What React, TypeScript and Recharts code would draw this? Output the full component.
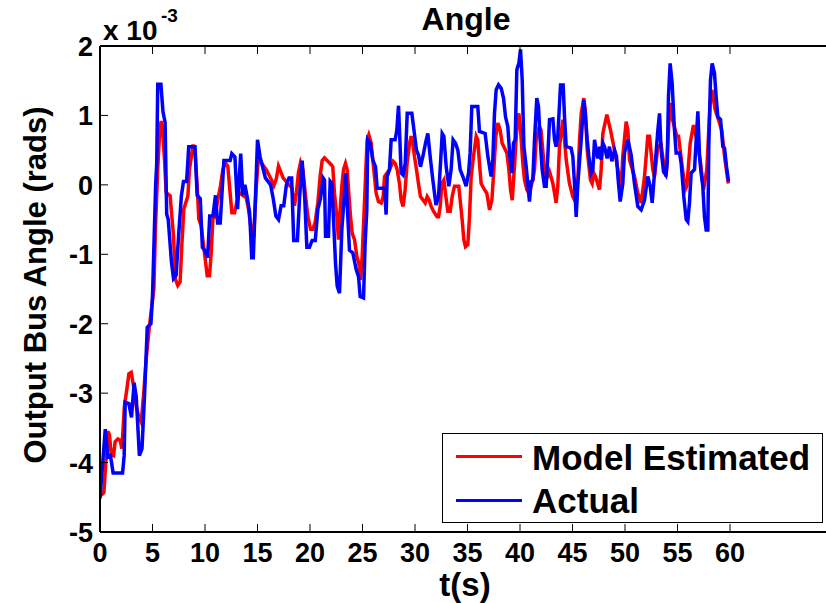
import { LineChart, Line, XAxis, YAxis, Legend, Label } from "recharts";

// [t (s), angle (x 1e-3 rad)]
const modelEstimated: [number, number][] = [
  [0.11,-4.47],[0.37,-4.43],[0.75,-3.55],[0.9,-3.6],[1.06,-3.88],[1.29,-3.9],[1.44,-3.7],[1.7,-3.66],[1.92,-3.68],[2.08,-3.8],
  [2.33,-3.18],[2.56,-2.94],[2.75,-2.72],[2.97,-2.7],[3.19,-2.89],[3.44,-3.18],[3.7,-3.35],[3.92,-3.42],[4.17,-2.99],[4.4,-2.51],
  [4.71,-2.03],[5.13,-1.5],[5.29,-0.59],[5.51,0.27],[5.7,0.8],[5.83,0.92],[5.98,0.75],[6.14,0.37],[6.3,-0.11],[6.68,-0.16],
  [6.84,-0.45],[7.0,-0.73],[7.19,-1.36],[7.41,-1.45],[7.63,-1.4],[7.79,-0.88],[7.98,-0.35],[8.37,-0.16],[8.52,0.22],[8.87,0.58],
  [9.06,0.46],[9.25,-0.01],[9.41,-0.49],[9.63,-0.59],[9.95,-0.98],[10.21,-1.31],[10.43,-1.31],[10.59,-0.98],[10.75,-0.49],[10.97,-0.45],
  [11.22,-0.21],[11.48,-0.01],[11.7,0.22],[11.92,0.32],[12.17,0.27],[12.33,-0.01],[12.56,-0.4],[12.81,-0.4],[13.25,-0.11],[13.67,-0.16],
  [13.92,-0.18],[14.14,-0.35],[14.4,-0.64],[14.65,-0.69],[14.87,-0.06],[15.1,0.42],[15.35,0.32],[15.83,0.22],[16.3,0.08],[16.56,-0.01],
  [16.78,0.08],[17.0,0.27],[17.44,0.1],[18.05,-0.01],[18.27,-0.04],[18.52,-0.3],[18.71,-0.11],[18.9,0.18],[19.1,0.32],[19.32,0.22],
  [19.54,-0.11],[19.79,-0.45],[20.05,-0.64],[20.27,-0.64],[20.49,-0.54],[20.75,-0.25],[20.97,0.13],[21.16,0.35],[21.38,0.39],[22.02,0.29],
  [22.17,0.26],[22.33,-0.12],[22.56,-0.46],[22.71,-0.79],[22.87,-0.36],[23.03,-0.02],[23.19,0.22],[23.38,0.31],[23.54,0.22],[23.67,-0.07],
  [23.86,-0.46],[24.02,-0.7],[24.24,-0.79],[24.46,-1.03],[24.65,-1.13],[24.81,-1.37],[24.97,-1.03],[25.13,-0.46],[25.29,0.12],[25.44,0.65],
  [25.6,0.72],[25.83,0.6],[25.98,0.36],[26.14,0.12],[26.3,-0.12],[26.52,-0.24],[26.78,-0.26],[26.97,-0.17],[27.1,0.12],[27.57,0.22],
  [27.92,0.34],[28.11,0.31],[28.3,0.22],[28.52,0.02],[28.68,-0.22],[28.87,-0.31],[29.06,-0.07],[29.25,0.31],[29.48,0.6],[29.63,0.7],
  [29.79,0.6],[29.95,0.41],[30.14,0.22],[30.33,0.02],[30.52,-0.17],[30.97,-0.26],[31.16,-0.17],[31.35,-0.22],[31.54,-0.31],[31.76,-0.38],
  [32.1,-0.46],[32.24,-0.46],[32.4,-0.31],[32.56,0.02],[32.75,0.07],[32.94,-0.17],[33.13,-0.38],[33.35,-0.38],[33.54,-0.17],[33.76,-0.02],
  [34.17,-0.02],[34.33,-0.26],[34.49,-0.5],[34.65,-0.79],[34.81,-0.89],[35.03,-0.86],[35.19,-0.46],[35.35,0.12],[35.57,0.41],[35.83,0.7],
  [35.98,0.65],[36.14,0.31],[36.3,0.02],[36.62,-0.07],[36.84,-0.12],[37.1,-0.36],[37.32,-0.22],[37.51,0.22],[37.7,0.7],[37.89,0.89],
  [38.11,0.79],[38.3,0.6],[38.75,0.46],[38.94,0.22],[39.1,-0.07],[39.26,-0.22],[39.41,0.12],[39.57,0.5],[39.73,0.89],[39.89,1.03],
  [40.05,0.79],[40.27,0.31],[40.43,0.07],[40.65,-0.07],[40.84,-0.12],[41.06,-0.02],[41.22,0.07],[41.38,0.22],[41.54,0.65],[41.84,0.84],
  [42.0,0.79],[42.17,0.5],[42.33,0.22],[42.49,0.07],[42.81,0.19],[43.13,0.02],[43.29,-0.12],[43.44,-0.26],[43.6,-0.02],[43.76,0.55],
  [44.08,0.94],[44.24,0.65],[44.4,0.36],[44.71,0.02],[45.03,-0.17],[45.35,-0.26],[45.51,0.07],[45.67,0.65],[45.83,1.03],[46.08,1.25],
  [46.24,1.03],[46.4,0.5],[46.71,0.07],[46.87,0.02],[47.03,0.17],[47.19,0.12],[47.57,-0.07],[47.73,0.22],[47.89,0.74],[48.27,1.01],
  [48.62,0.79],[49.0,0.5],[49.32,0.22],[49.63,-0.02],[49.79,0.41],[50.11,0.91],[50.27,0.79],[50.43,0.36],[50.9,0.12],[51.22,-0.12],
  [51.54,-0.26],[51.86,0.12],[52.17,0.7],[52.33,0.7],[52.65,0.22],[52.81,0.12],[53.13,0.55],[53.44,0.58],[53.76,0.22],[53.92,0.12],
  [54.14,0.79],[54.3,1.18],[54.46,0.98],[54.94,0.7],[55.1,0.7],[55.41,0.31],[55.73,-0.07],[55.89,-0.02],[56.21,0.6],[56.52,0.86],
  [56.84,0.65],[57.16,0.36],[57.48,-0.07],[57.79,0.22],[58.11,1.18],[58.27,1.37],[58.59,1.08],[58.9,0.94],[59.21,0.79],[59.52,0.36],
  [59.84,0.02],
];

const actual: [number, number][] = [
  [0,-4.52],[0.5,-3.52],[0.75,-3.92],[1.0,-3.9],[1.25,-4.15],[2.15,-4.15],[2.3,-3.9],[2.4,-3.13],[2.75,-3.15],[3.0,-3.35],
  [3.25,-2.85],[3.45,-3.05],[3.75,-3.9],[4.0,-3.8],[4.25,-3.0],[4.5,-2.05],[4.85,-2.0],[5.0,-1.6],[5.3,0.0],[5.4,0.3],
  [5.5,1.45],[5.8,1.45],[6.0,1.05],[6.2,0.9],[6.35,-0.42],[6.5,-0.5],[6.8,-1.1],[7.0,-1.35],[7.25,-1.3],[7.5,-0.7],
  [7.75,-0.16],[7.95,0.05],[8.25,0.05],[8.45,0.55],[9.05,0.55],[9.25,-0.15],[9.55,-0.2],[9.75,-0.9],[10.0,-0.95],[10.25,-1.05],
  [10.45,-0.45],[10.75,-0.45],[11.0,-0.15],[11.2,-0.55],[11.45,-0.55],[11.8,0.35],[12.4,0.35],[12.55,0.45],[12.85,0.4],[13.1,-0.35],
  [13.4,0.45],[13.6,-0.15],[13.8,0.0],[14.05,-0.2],[14.25,-0.4],[14.45,-1.05],[14.6,-1.05],[15.0,0.65],[15.25,0.4],[15.5,0.25],
  [15.75,0.1],[16.0,0.05],[16.25,0.0],[16.5,-0.2],[16.75,-0.45],[17.0,-0.5],[17.25,-0.3],[17.5,-0.3],[17.75,0.0],[18.0,0.1],
  [18.25,0.1],[18.45,-0.8],[18.8,-0.8],[19.0,-0.2],[19.25,0.35],[19.5,-0.2],[19.7,-0.9],[19.95,-0.9],[20.2,-0.8],[20.5,-0.8],
  [20.75,-0.35],[21.0,-0.2],[21.25,0.1],[21.38,0.07],[21.48,-0.74],[21.76,-0.74],[21.92,0.05],[22.08,0.02],[22.27,-0.6],[22.43,-1.13],
  [22.59,-1.46],[22.81,-1.56],[23.03,-0.65],[23.22,-0.26],[23.41,0.17],[23.6,-0.46],[23.76,-0.94],[24.08,-0.98],[24.4,-1.22],[24.62,-1.32],
  [24.78,-1.61],[25.1,-1.63],[25.25,-0.84],[25.41,-0.36],[25.5,0.65],[25.73,0.6],[25.98,0.36],[26.24,0.26],[26.4,-0.05],[27.1,-0.05],
  [27.25,-0.43],[27.35,0.12],[27.57,0.22],[27.73,0.65],[28.11,0.65],[28.27,0.79],[28.43,1.14],[28.56,0.65],[28.68,0.17],[28.87,0.14],
  [29.07,0.31],[29.26,1.03],[29.7,1.03],[29.9,0.79],[30.14,0.5],[30.33,0.43],[30.52,0.26],[30.78,0.43],[31.0,0.6],[31.22,0.74],
  [31.48,0.36],[31.7,0.07],[32.0,-0.29],[32.24,-0.17],[32.43,0.31],[32.59,0.74],[32.75,0.7],[32.97,0.26],[33.22,-0.02],[33.44,0.22],
  [33.63,0.65],[33.86,0.6],[34.08,0.5],[34.3,0.22],[34.56,0.12],[34.87,-0.02],[35.1,0.17],[35.25,0.46],[35.41,1.13],[35.98,1.13],
  [36.14,0.77],[36.68,0.74],[36.94,0.41],[37.25,0.12],[37.41,0.36],[37.57,1.03],[37.73,1.37],[37.95,1.44],[38.21,1.39],[38.43,1.25],
  [38.62,0.98],[38.84,0.84],[39.03,0.41],[39.22,0.17],[39.38,0.6],[39.54,0.65],[39.7,1.66],[39.89,1.75],[40.05,1.95],[40.21,1.51],
  [40.37,0.55],[40.59,0.26],[40.9,-0.24],[41.06,0.05],[41.22,0.07],[41.38,0.65],[41.6,1.25],[41.76,1.13],[41.92,0.65],[42.11,0.22],
  [42.33,-0.02],[42.49,-0.02],[42.65,0.41],[42.81,0.94],[43.13,0.95],[43.29,0.65],[43.44,0.55],[43.6,0.7],[43.86,1.44],[44.11,1.44],
  [44.24,0.98],[44.4,0.55],[44.87,0.53],[45.03,0.41],[45.19,0.02],[45.35,-0.46],[45.51,0.02],[45.83,0.65],[46.08,1.22],[46.21,1.03],
  [46.4,0.65],[46.56,0.41],[46.78,0.17],[46.94,0.22],[47.1,0.65],[47.25,0.5],[47.41,0.38],[47.57,0.55],[47.73,0.36],[47.89,0.6],
  [48.05,0.55],[48.3,0.38],[48.52,0.55],[48.75,0.34],[49.0,0.5],[49.19,0.41],[49.35,0.07],[49.54,-0.24],[49.79,0.02],[49.95,0.46],
  [50.27,0.65],[50.59,0.43],[50.9,0.02],[51.22,-0.31],[51.54,-0.36],[51.86,-0.22],[52.17,0.12],[52.4,-0.02],[52.59,-0.26],[52.81,0.17],
  [53.13,0.79],[53.29,1.03],[53.44,0.5],[53.67,0.19],[53.89,0.14],[54.02,0.31],[54.14,1.27],[54.3,1.75],[54.49,1.46],[54.71,0.79],
  [54.87,0.46],[55.19,0.46],[55.35,0.31],[55.6,-0.17],[55.83,-0.5],[55.98,-0.53],[56.14,-0.26],[56.3,0.17],[56.62,0.22],[56.78,0.65],
  [56.94,1.06],[57.1,0.41],[57.25,0.17],[57.41,-0.02],[57.57,-0.46],[57.73,-0.65],[57.89,-0.65],[57.98,0.55],[58.14,1.51],[58.3,1.75],
  [58.52,1.61],[58.68,1.27],[58.84,0.98],[59.1,0.94],[59.32,0.55],[59.48,0.53],[59.67,0.26],[59.86,0.05],
];

const xTicks = [0, 5, 10, 15, 20, 25, 30, 35, 40, 45, 50, 55, 60];
const yTicks = [-5, -4, -3, -2, -1, 0, 1, 2];

const modelData = modelEstimated.map(([t, v]) => ({ t, v }));
const actualData = actual.map(([t, v]) => ({ t, v }));

const FONT = "'Liberation Sans', Arial, Helvetica, sans-serif";
const TICK_LEN = 8;

const BottomTick = ({ x, y, payload }: any) => (
  <g>
    <line x1={x} y1={y} x2={x} y2={y - TICK_LEN} stroke="#000" strokeWidth={1} />
    <text x={x} y={y + 30} textAnchor="middle" fontSize={27} fontWeight="bold" fontFamily={FONT} fill="#000">
      {payload.value}
    </text>
  </g>
);

const TopTick = ({ x, y }: any) => (
  <line x1={x} y1={y} x2={x} y2={y + TICK_LEN} stroke="#000" strokeWidth={1} />
);

const LeftTick = ({ x, y, payload }: any) => (
  <g>
    <line x1={x} y1={y} x2={x + TICK_LEN} y2={y} stroke="#000" strokeWidth={1} />
    <text x={x - 7} y={y + 10} textAnchor="end" fontSize={27} fontWeight="bold" fontFamily={FONT} fill="#000">
      {payload.value}
    </text>
  </g>
);

const RightTick = ({ x, y }: any) => (
  <line x1={x} y1={y} x2={x - TICK_LEN} y2={y} stroke="#000" strokeWidth={1} />
);

const LegendBox = () => (
  <div
    style={{
      width: 381,
      height: 90,
      boxSizing: "border-box",
      border: "1.5px solid #000",
      background: "#fff",
      position: "relative",
      fontFamily: FONT,
      fontWeight: "bold",
      fontSize: 35,
      lineHeight: "35px",
      color: "#000",
    }}
  >
    <div style={{ position: "absolute", left: 13, top: 21, width: 66, height: 2.5, background: "#ff0000" }} />
    <div style={{ position: "absolute", left: 89, top: 6, whiteSpace: "nowrap" }}>Model Estimated</div>
    <div style={{ position: "absolute", left: 13, top: 65, width: 66, height: 2.5, background: "#0000ff" }} />
    <div style={{ position: "absolute", left: 89, top: 49, whiteSpace: "nowrap" }}>Actual</div>
  </div>
);

export default function App() {
  return (
    <div style={{ position: "absolute", left: 0, top: 0, width: 826, height: 603, overflow: "hidden", background: "#fff" }}>
      <LineChart width={850} height={603} margin={{ top: 45, right: 14, bottom: 70, left: 99 }}>
        <XAxis
          xAxisId="b"
          dataKey="t"
          type="number"
          domain={[0, 70]}
          ticks={xTicks}
          height={1}
          tickSize={0}
          tickMargin={0}
          tickLine={false}
          tick={<BottomTick />}
          axisLine={{ stroke: "#000", strokeWidth: 2 }}
          allowDataOverflow
        >
          <Label
            content={() => (
              <text x={465} y={596} textAnchor="middle" fontSize={33} fontWeight="bold" fontFamily={FONT} fill="#000">
                t(s)
              </text>
            )}
          />
        </XAxis>
        <XAxis
          xAxisId="top"
          orientation="top"
          dataKey="t"
          type="number"
          domain={[0, 70]}
          ticks={xTicks}
          height={1}
          tickSize={0}
          tickMargin={0}
          tickLine={false}
          tick={<TopTick />}
          axisLine={{ stroke: "#000", strokeWidth: 2 }}
          allowDataOverflow
        >
          <Label
            content={() => (
              <text x={466} y={30} textAnchor="middle" fontSize={32} fontWeight="bold" fontFamily={FONT} fill="#000">
                Angle
              </text>
            )}
          />
        </XAxis>
        <YAxis
          yAxisId="l"
          type="number"
          domain={[-5, 2]}
          ticks={yTicks}
          width={1}
          tickSize={0}
          tickMargin={0}
          tickLine={false}
          tick={<LeftTick />}
          axisLine={{ stroke: "#000", strokeWidth: 2 }}
          allowDataOverflow
        >
          <Label
            content={() => (
              <g fontFamily={FONT} fontWeight="bold" fill="#000">
                <text transform="translate(46, 285) rotate(-90)" textAnchor="middle" fontSize={31}>
                  Output Bus Angle (rads)
                </text>
                <text x={103} y={40} fontSize={28}>x 10</text>
                <text x={161} y={22} fontSize={19}>-3</text>
              </g>
            )}
          />
        </YAxis>
        <YAxis
          yAxisId="r"
          orientation="right"
          type="number"
          domain={[-5, 2]}
          ticks={yTicks}
          width={1}
          tickSize={0}
          tickMargin={0}
          tickLine={false}
          tick={<RightTick />}
          axisLine={{ stroke: "#000", strokeWidth: 2 }}
          allowDataOverflow
        />
        <Legend
          verticalAlign="middle"
          align="center"
          content={() => <LegendBox />}
          wrapperStyle={{ position: "absolute", left: 442, top: 433, width: 381, height: 90 }}
        />
        <Line
          data={actualData}
          dataKey="v"
          xAxisId="top"
          yAxisId="r"
          stroke="none"
          dot={false}
          activeDot={false}
          legendType="none"
          isAnimationActive={false}
        />
        <Line
          data={modelData}
          dataKey="v"
          name="Model Estimated"
          xAxisId="b"
          yAxisId="l"
          type="linear"
          stroke="#ff0000"
          strokeWidth={3.5}
          dot={false}
          activeDot={false}
          isAnimationActive={false}
        />
        <Line
          data={actualData}
          dataKey="v"
          name="Actual"
          xAxisId="b"
          yAxisId="l"
          type="linear"
          stroke="#0000ff"
          strokeWidth={3.5}
          dot={false}
          activeDot={false}
          isAnimationActive={false}
        />
      </LineChart>
    </div>
  );
}
